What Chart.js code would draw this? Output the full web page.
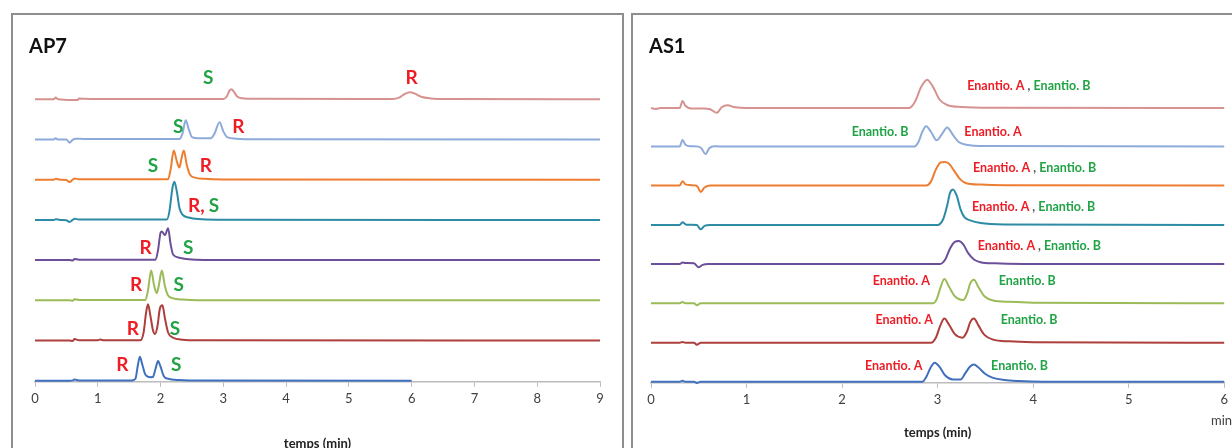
<!DOCTYPE html>
<html>
<head>
<meta charset="utf-8">
<script src="https://cdn.jsdelivr.net/npm/chart.js@4.4.1/dist/chart.umd.min.js"></script>
<style>
  html, body { margin: 0; padding: 0; background: #fff; overflow: hidden; }
  body { width: 1232px; height: 448px; position: relative; font-family: Lato, sans-serif; }
  .panel { position: absolute; top: 13px; height: 470px; border-top: 2px solid #8e8e8e; border-left: 2px solid #8e8e8e; border-right: 2px solid #8e8e8e; box-sizing: border-box; }
  #p1 { left: 11px; width: 613px; }
  #p2 { left: 631px; width: 640px; }
  .title { position: absolute; top: 33px; font: bold 20px Lato, sans-serif; color: #111; }
  #unit { position: absolute; left: 1211px; top: 412px; font: 13px Lato, sans-serif; color: #404040; }
  canvas { position: absolute; top: 0; }
</style>
</head>
<body>
<div class="panel" id="p1"></div>
<div class="panel" id="p2"></div>
<canvas id="ap7" width="620" height="470" style="left:0"></canvas>
<canvas id="as1" width="612" height="470" style="left:620px"></canvas>
<div class="title" style="left:29px">AP7</div>
<div class="title" style="left:649px">AS1</div>
<div id="unit">min</div>
<script>
// chromatograms: [time (min), signal above baseline]

// ---- AP7 column, top to bottom ----
const ap7Pink = [[0,0],[0.3,0],[0.33,0.4],[0.37,0],[0.6,-0.2],[0.68,-0.2],[0.7,0.2],[0.8,0.1],[1,0.05],[3.0,0.05],[3.06,0.8],[3.1,2.2],[3.13,2.5],[3.17,1.8],[3.22,0.7],[3.3,0.25],[3.5,0.1],[5.7,0.05],[5.8,0.4],[5.9,1.4],[5.97,1.75],[6.05,1.4],[6.15,0.6],[6.3,0.2],[6.6,0.05],[9,0]];
const ap7LightBlue = [[0,0],[0.3,0],[0.33,0.3],[0.36,0],[0.5,0],[0.55,-0.8],[0.6,-0.1],[0.65,0.2],[0.8,0.1],[2.3,0.1],[2.35,1.5],[2.4,4.75],[2.45,2.5],[2.5,0.6],[2.6,0.3],[2.8,0.3],[2.86,1.5],[2.94,4.25],[3.0,2.0],[3.06,0.6],[3.2,0.2],[3.5,0.05],[9,0]];
const ap7Orange = [[0,0],[0.3,0],[0.33,0.2],[0.4,0],[0.5,-0.1],[0.55,-0.6],[0.6,0],[0.63,0.3],[0.7,0.1],[1.0,0.1],[2.12,0.1],[2.16,2.5],[2.21,7.25],[2.26,4.5],[2.30,3.0],[2.33,5],[2.37,7.25],[2.42,3.5],[2.47,1.2],[2.55,0.5],[2.7,0.2],[3.0,0.05],[9,0]];
const ap7Teal = [[0,0],[0.3,0],[0.33,0.15],[0.4,0],[0.5,-0.1],[0.55,-0.5],[0.6,0],[0.63,0.3],[0.7,0.1],[1.0,0.1],[2.1,0.1],[2.14,2],[2.19,8],[2.22,9.5],[2.26,7],[2.3,3],[2.35,1.3],[2.45,0.6],[2.6,0.2],[2.9,0.05],[9,0]];
const ap7Purple = [[0,0],[0.55,0],[0.6,-0.1],[0.63,0.3],[0.7,0.1],[1.0,0.1],[1.92,0.1],[1.96,2.5],[2.0,6.8],[2.02,7.1],[2.07,6.2],[2.12,7.9],[2.16,4],[2.2,1.4],[2.3,0.6],[2.45,0.2],[2.7,0.05],[9,0]];
const ap7Green = [[0,0],[0.55,0],[0.6,-0.1],[0.63,0.3],[0.7,0.1],[1.0,0.1],[1.76,0.1],[1.8,2.5],[1.85,7.4],[1.9,3.5],[1.94,1.8],[1.97,3.5],[2.02,7.4],[2.07,3.5],[2.12,1.2],[2.2,0.5],[2.35,0.2],[2.6,0.05],[9,0]];
const ap7DarkRed = [[0,0],[0.55,0],[0.6,-0.1],[0.63,0.4],[0.7,0.1],[1.0,0.1],[1.04,0.25],[1.1,0.05],[1.68,0.1],[1.73,2],[1.77,7],[1.8,9],[1.84,6],[1.88,2.5],[1.91,1.65],[1.95,3.5],[1.99,8],[2.03,8.75],[2.07,5.5],[2.12,2.0],[2.2,0.7],[2.35,0.2],[2.6,0.05],[9,0]];
const ap7Blue = [[0,0],[0.55,0],[0.6,0.1],[0.63,0.3],[0.7,0.1],[1.55,0.1],[1.6,0.5],[1.64,4],[1.67,6],[1.71,4],[1.76,1.5],[1.84,0.9],[1.88,1],[1.92,3],[1.96,4.9],[2.0,3.5],[2.05,1.2],[2.12,0.5],[2.3,0.2],[2.6,0.05],[6,0]];
const ap7Baselines = [70, 60, 50, 40, 30, 20, 10, 0];

// ---- AS1 column, top to bottom ----
const as1Pink = [[0,0],[0.05,-0.2],[0.1,0],[0.3,0],[0.33,1.8],[0.36,0.6],[0.42,-0.1],[0.55,-0.1],[0.62,-0.3],[0.69,-1.2],[0.74,0.2],[0.8,0.7],[0.88,0.2],[1.0,0],[2.7,0],[2.76,1.5],[2.83,5.5],[2.89,7.26],[2.95,5.5],[3.02,2.2],[3.1,0.8],[3.25,0.3],[3.6,0.1],[6,0]];
const as1LightBlue = [[0,0],[0.3,0],[0.33,1.7],[0.36,0.5],[0.42,0.1],[0.5,0],[0.53,-0.5],[0.57,-1.9],[0.61,-0.4],[0.66,0.1],[0.8,0],[2.75,0],[2.8,1.2],[2.84,3.8],[2.88,5.2],[2.93,3.8],[2.99,1.6],[3.04,3.0],[3.1,4.9],[3.16,3.0],[3.22,1.2],[3.3,0.5],[3.5,0.15],[6,0]];
const as1Orange = [[0,0],[0.3,0],[0.33,1.1],[0.36,0.3],[0.42,0.1],[0.47,0],[0.49,-0.4],[0.52,-1.65],[0.56,-0.5],[0.62,0],[0.8,0],[2.88,0],[2.93,1.0],[2.98,4.0],[3.03,5.9],[3.07,6.0],[3.12,5.6],[3.18,3.5],[3.24,1.5],[3.3,0.6],[3.45,0.25],[3.7,0.1],[6,0]];
const as1Teal = [[0,0],[0.3,0],[0.33,0.7],[0.37,0.1],[0.48,0],[0.52,-1.1],[0.56,-0.2],[0.62,0],[0.8,0],[3.0,0],[3.06,1.6],[3.1,5],[3.13,8.2],[3.16,9.1],[3.2,7.5],[3.24,4],[3.28,2],[3.34,1.2],[3.45,0.5],[3.7,0.15],[6,0]];
const as1Purple = [[0,0],[0.3,0],[0.33,0.4],[0.36,0.3],[0.45,0.2],[0.5,-0.8],[0.54,-0.2],[0.6,0],[3.02,0],[3.08,1.2],[3.13,4],[3.18,5.7],[3.22,5.9],[3.27,5],[3.32,2.8],[3.38,1.2],[3.45,0.5],[3.6,0.2],[3.9,0.05],[6,0]];
const as1Green = [[0,0],[0.3,0],[0.33,0.3],[0.36,0],[0.45,0],[0.48,-0.5],[0.52,0],[2.95,0],[2.99,1.0],[3.03,4.0],[3.07,6.2],[3.12,4.2],[3.18,1.8],[3.27,0.85],[3.31,2.5],[3.34,5],[3.38,6.0],[3.43,4],[3.49,1.8],[3.58,0.7],[3.75,0.35],[4.0,0.15],[6,0]];
const as1DarkRed = [[0,0],[0.3,0],[0.33,0.2],[0.36,0],[0.45,0],[0.48,-0.5],[0.52,0],[2.93,0],[2.98,1.2],[3.03,4.5],[3.07,6.2],[3.12,4.6],[3.18,2.2],[3.26,1.3],[3.31,3],[3.34,5.2],[3.38,6.2],[3.43,4.3],[3.49,2],[3.58,0.8],[3.75,0.35],[4.0,0.15],[6,0]];
const as1Blue = [[0,0],[0.3,0],[0.33,0.3],[0.36,0],[0.45,0],[0.48,-0.3],[0.52,0],[2.84,0],[2.88,1.2],[2.93,3.8],[2.97,4.9],[3.02,3.8],[3.08,1.6],[3.16,0.6],[3.24,0.6],[3.29,2.2],[3.34,3.9],[3.38,4.4],[3.43,3.6],[3.5,2.0],[3.58,1.0],[3.7,0.45],[3.85,0.2],[4.1,0.05],[6,0]];
const as1Baselines = [70, 60.15, 50.2, 40.1, 30.1, 20.1, 10, 0];

// peak labels: trace index, retention time, height above that trace's baseline
const RED = "#ee1c25", GREEN = "#21a346", GREY = "#555";
const ap7Labels = [
  { trace: 0, x: 2.76, h: 5.25, parts: [["S", GREEN]] },
  { trace: 0, x: 6.0, h: 5.25, parts: [["R", RED]] },
  { trace: 1, x: 2.28, h: 3.25, parts: [["S", GREEN]] },
  { trace: 1, x: 3.24, h: 3.25, parts: [["R", RED]] },
  { trace: 2, x: 1.88, h: 3.5, parts: [["S", GREEN]] },
  { trace: 2, x: 2.72, h: 3.5, parts: [["R", RED]] },
  { trace: 3, x: 2.57, h: 3.5, parts: [["R,", RED]] },
  { trace: 3, x: 2.85, h: 3.5, parts: [["S", GREEN]] },
  { trace: 4, x: 1.76, h: 3, parts: [["R", RED]] },
  { trace: 4, x: 2.44, h: 3, parts: [["S", GREEN]] },
  { trace: 5, x: 1.61, h: 3.75, parts: [["R", RED]] },
  { trace: 5, x: 2.29, h: 3.75, parts: [["S", GREEN]] },
  { trace: 6, x: 1.56, h: 3, parts: [["R", RED]] },
  { trace: 6, x: 2.23, h: 3, parts: [["S", GREEN]] },
  { trace: 7, x: 1.39, h: 4, parts: [["R", RED]] },
  { trace: 7, x: 2.25, h: 4, parts: [["S", GREEN]] },
];
const both = [["Enantio. A", RED], [" , ", GREY], ["Enantio. B", GREEN]];
const as1Labels = [
  { trace: 0, x: 3.31, h: 5.6, parts: both },
  { trace: 1, x: 2.10, h: 3.7, parts: [["Enantio. B", GREEN]] },
  { trace: 1, x: 3.28, h: 3.7, parts: [["Enantio. A", RED]] },
  { trace: 2, x: 3.37, h: 4.6, parts: both },
  { trace: 3, x: 3.36, h: 4.6, parts: both },
  { trace: 4, x: 3.42, h: 4.7, parts: both },
  { trace: 5, x: 2.32, h: 5.6, parts: [["Enantio. A", RED]] },
  { trace: 5, x: 3.64, h: 5.6, parts: [["Enantio. B", GREEN]] },
  { trace: 6, x: 2.35, h: 5.8, parts: [["Enantio. A", RED]] },
  { trace: 6, x: 3.66, h: 5.8, parts: [["Enantio. B", GREEN]] },
  { trace: 7, x: 2.24, h: 4.0, parts: [["Enantio. A", RED]] },
  { trace: 7, x: 3.56, h: 4.0, parts: [["Enantio. B", GREEN]] },
];

const traceColors = ["#d6928f", "#8eaadb", "#ed7d31", "#2e8ba6", "#6c4f99", "#9bbb59", "#ad3f3c", "#4170bf"];

function buildSets(traces, bases) {
  return traces.map((tr, i) => ({
    data: tr.map(p => ({ x: p[0], y: p[1] + bases[i] })),
    borderColor: traceColors[i],
    borderWidth: 2,
    pointRadius: 0,
    cubicInterpolationMode: "monotone",
    fill: false,
    clip: false,
  }));
}

// writes the R/S and Enantio labels next to the peaks
const peakLabels = {
  id: "peakLabels",
  afterDatasetsDraw(chart, args, opts) {
    const ctx = chart.ctx;
    ctx.save();
    ctx.font = opts.font;
    ctx.textBaseline = "middle";
    opts.items.forEach(l => {
      const y = chart.scales.y.getPixelForValue(opts.bases[l.trace] + l.h);
      let x = chart.scales.x.getPixelForValue(l.x);
      if (opts.align === "center") {
        const w = l.parts.reduce((s, p) => s + ctx.measureText(p[0]).width, 0);
        x -= w / 2;
      }
      l.parts.forEach(p => {
        ctx.fillStyle = p[1];
        ctx.textAlign = "left";
        ctx.fillText(p[0], x, y);
        x += ctx.measureText(p[0]).width;
      });
    });
    ctx.restore();
  },
};

function makeChart(id, sets, xMax, yMax, pad, titleTop, labelOpts) {
  return new Chart(document.getElementById(id), {
    type: "line",
    data: { datasets: sets },
    options: {
      responsive: false,
      animation: false,
      devicePixelRatio: 1,
      layout: { padding: pad },
      plugins: { legend: { display: false }, tooltip: { enabled: false }, peakLabels: labelOpts },
      scales: {
        x: {
          type: "linear", min: 0, max: xMax,
          ticks: { stepSize: 1, color: "#404040", padding: 4, font: { family: "Lato, sans-serif", size: 13 } },
          grid: { drawOnChartArea: false, tickLength: 5, color: "#bcbcbc" },
          border: { color: "#bcbcbc", width: 1.5 },
          title: { display: true, text: "temps (min)", color: "#222", padding: { top: titleTop, bottom: 4 },
                   font: { family: "Lato, sans-serif", size: 13, weight: "bold" } },
        },
        y: { display: false, min: -0.25, max: yMax },
      },
    },
    plugins: [peakLabels],
  });
}

makeChart("ap7",
  buildSets([ap7Pink, ap7LightBlue, ap7Orange, ap7Teal, ap7Purple, ap7Green, ap7DarkRed, ap7Blue], ap7Baselines),
  9, 80, { left: 35, right: 20, top: 59, bottom: 14 }, 26,
  { items: ap7Labels, bases: ap7Baselines, align: "center", font: "bold 19px Lato, sans-serif" });

makeChart("as1",
  buildSets([as1Pink, as1LightBlue, as1Orange, as1Teal, as1Purple, as1Green, as1DarkRed, as1Blue], as1Baselines),
  6, 80, { left: 31, right: 6, top: 69, bottom: 25 }, 14,
  { items: as1Labels, bases: as1Baselines, align: "left", font: "bold 12.5px Lato, sans-serif" });
</script>
</body>
</html>
